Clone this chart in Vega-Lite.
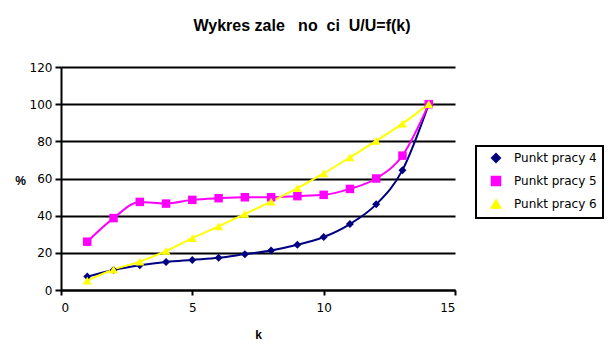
{
  "$schema": "https://vega.github.io/schema/vega-lite/v6.json",
  "autosize": "none",
  "width": 394,
  "height": 223,
  "padding": {"left": 61, "top": 67, "right": 153, "bottom": 72},
  "background": "white",
  "title": {
    "text": "Wykres zale\u00a0\u00a0\u00a0no\u00a0\u00a0ci\u00a0 U/U=f(k)",
    "font": "Liberation Sans",
    "fontSize": 16,
    "fontWeight": "bold",
    "color": "black",
    "anchor": "middle",
    "frame": "group",
    "dx": 44,
    "offset": 27
  },
  "data": {
    "values": [
      {"k": 1, "v": 7.2, "s": "Punkt pracy 4"},
      {"k": 2, "v": 10.8, "s": "Punkt pracy 4"},
      {"k": 3, "v": 13.3, "s": "Punkt pracy 4"},
      {"k": 4, "v": 15.1, "s": "Punkt pracy 4"},
      {"k": 5, "v": 16.2, "s": "Punkt pracy 4"},
      {"k": 6, "v": 17.3, "s": "Punkt pracy 4"},
      {"k": 7, "v": 19.3, "s": "Punkt pracy 4"},
      {"k": 8, "v": 21.3, "s": "Punkt pracy 4"},
      {"k": 9, "v": 24.3, "s": "Punkt pracy 4"},
      {"k": 10, "v": 28.5, "s": "Punkt pracy 4"},
      {"k": 11, "v": 35.5, "s": "Punkt pracy 4"},
      {"k": 12, "v": 46.1, "s": "Punkt pracy 4"},
      {"k": 13, "v": 64.5, "s": "Punkt pracy 4"},
      {"k": 14, "v": 100, "s": "Punkt pracy 4"},
      {"k": 1, "v": 26, "s": "Punkt pracy 5"},
      {"k": 2, "v": 38.7, "s": "Punkt pracy 5"},
      {"k": 3, "v": 47.4, "s": "Punkt pracy 5"},
      {"k": 4, "v": 46.5, "s": "Punkt pracy 5"},
      {"k": 5, "v": 48.5, "s": "Punkt pracy 5"},
      {"k": 6, "v": 49.4, "s": "Punkt pracy 5"},
      {"k": 7, "v": 49.9, "s": "Punkt pracy 5"},
      {"k": 8, "v": 49.9, "s": "Punkt pracy 5"},
      {"k": 9, "v": 50.5, "s": "Punkt pracy 5"},
      {"k": 10, "v": 51.2, "s": "Punkt pracy 5"},
      {"k": 11, "v": 54.4, "s": "Punkt pracy 5"},
      {"k": 12, "v": 60, "s": "Punkt pracy 5"},
      {"k": 13, "v": 72.3, "s": "Punkt pracy 5"},
      {"k": 14, "v": 100, "s": "Punkt pracy 5"},
      {"k": 1, "v": 5, "s": "Punkt pracy 6"},
      {"k": 2, "v": 11, "s": "Punkt pracy 6"},
      {"k": 3, "v": 15.3, "s": "Punkt pracy 6"},
      {"k": 4, "v": 21, "s": "Punkt pracy 6"},
      {"k": 5, "v": 27.9, "s": "Punkt pracy 6"},
      {"k": 6, "v": 34.2, "s": "Punkt pracy 6"},
      {"k": 7, "v": 40.9, "s": "Punkt pracy 6"},
      {"k": 8, "v": 47.6, "s": "Punkt pracy 6"},
      {"k": 9, "v": 54.8, "s": "Punkt pracy 6"},
      {"k": 10, "v": 62.7, "s": "Punkt pracy 6"},
      {"k": 11, "v": 71.4, "s": "Punkt pracy 6"},
      {"k": 12, "v": 80.2, "s": "Punkt pracy 6"},
      {"k": 13, "v": 89.5, "s": "Punkt pracy 6"},
      {"k": 14, "v": 100, "s": "Punkt pracy 6"}
    ]
  },
  "encoding": {
    "x": {
      "field": "k", "type": "quantitative",
      "scale": {"domain": [0, 15], "nice": false},
      "axis": {
        "title": "k", "values": [0, 5, 10, 15], "grid": false,
        "titleFontWeight": "bold", "titleFontSize": 12, "titleFont": "Liberation Sans", "titleColor": "black",
        "titlePadding": 16,
        "labelFont": "DejaVu Sans", "labelFontSize": 12, "labelColor": "black", "labelPadding": 7,
        "domainColor": "black", "domainWidth": 2, "tickColor": "black", "tickWidth": 2, "tickSize": 5
      }
    },
    "y": {
      "field": "v", "type": "quantitative",
      "scale": {"domain": [0, 120], "nice": false},
      "axis": {
        "title": "%", "values": [0, 20, 40, 60, 80, 100, 120], "grid": true,
        "gridColor": "black", "gridWidth": 2, "gridOpacity": 1,
        "titleAngle": 0, "titleX": -41, "titleY": 113, "titleAlign": "center", "titleBaseline": "middle",
        "titleFontWeight": "bold", "titleFontSize": 12, "titleFont": "Liberation Sans", "titleColor": "black",
        "labelFont": "DejaVu Sans", "labelFontSize": 12, "labelColor": "black", "labelPadding": 3,
        "domainColor": "black", "domainWidth": 2, "tickColor": "black", "tickWidth": 2, "tickSize": 6
      }
    },
    "color": {
      "field": "s", "type": "nominal",
      "scale": {"domain": ["Punkt pracy 4", "Punkt pracy 5", "Punkt pracy 6"], "range": ["#000080", "#FF00FF", "#FFFF00"]},
      "legend": {
        "title": null, "orient": "none", "legendX": 415, "legendY": 79,
        "strokeColor": "black", "padding": 6, "rowPadding": 6,
        "labelFont": "DejaVu Sans", "labelFontSize": 12, "labelColor": "black",
        "symbolSize": 90, "symbolStrokeWidth": 2, "symbolOffset": 8, "labelOffset": 12
      }
    }
  },
  "layer": [
    {"mark": {"type": "line", "strokeWidth": 2, "interpolate": "monotone"}},
    {
      "mark": {"type": "point", "filled": true, "opacity": 1},
      "encoding": {
        "shape": {
          "field": "s", "type": "nominal",
          "scale": {"domain": ["Punkt pracy 4", "Punkt pracy 5", "Punkt pracy 6"], "range": ["diamond", "square", "triangle-up"]}
        },
        "size": {
          "field": "s", "type": "ordinal", "legend": null,
          "scale": {"domain": ["Punkt pracy 4", "Punkt pracy 5", "Punkt pracy 6"], "range": [64, 80, 90]}
        }
      }
    }
  ],
  "config": {"view": {"stroke": null}, "legend": {"strokeWidth": 2}}
}
